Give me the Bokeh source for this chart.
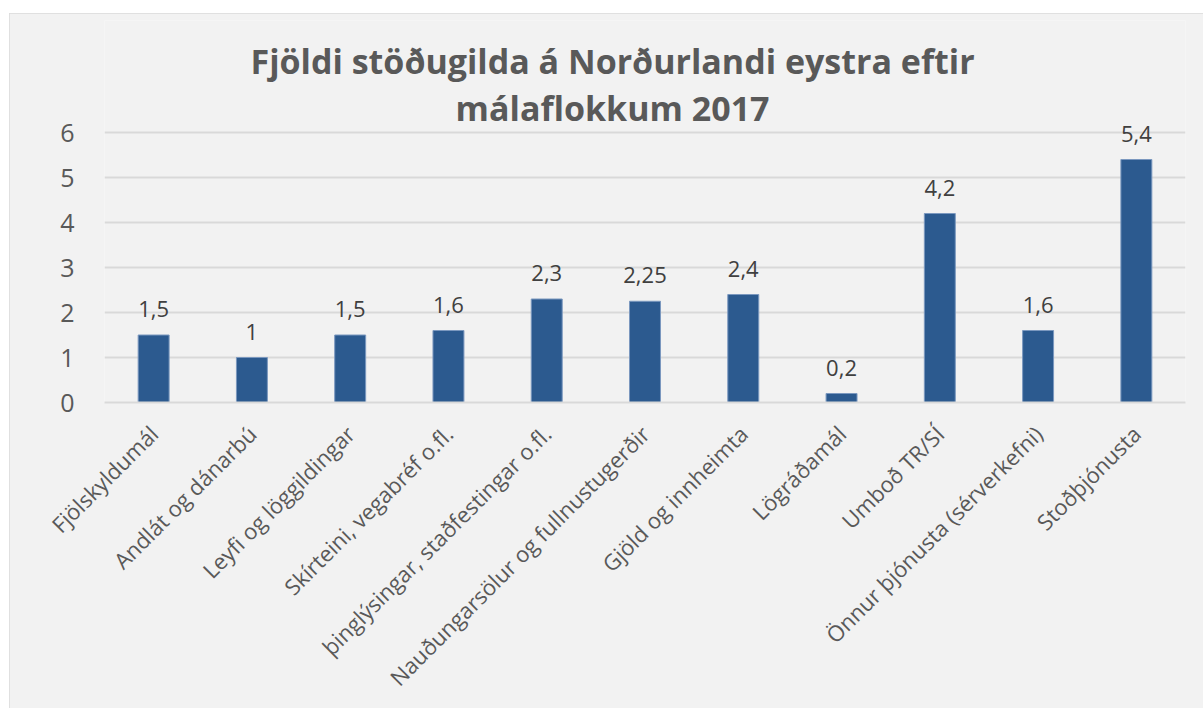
from math import pi
from bokeh.plotting import figure
from bokeh.models import ColumnDataSource, FactorRange, FixedTicker, LabelSet, Label
from bokeh.core.properties import value
from bokeh.embed import file_html
from bokeh.resources import INLINE

categories = [
    "Fjölskyldumál",
    "Andlát og dánarbú",
    "Leyfi og löggildingar",
    "Skírteini, vegabréf o.fl.",
    "þinglýsingar, staðfestingar o.fl.",
    "Nauðungarsölur og fullnustugerðir",
    "Gjöld og innheimta",
    "Lögráðamál",
    "Umboð TR/SÍ",
    "Önnur þjónusta (sérverkefni)",
    "Stoðþjónusta",
]
values = [1.5, 1.0, 1.5, 1.6, 2.3, 2.25, 2.4, 0.2, 4.2, 1.6, 5.4]
y_ticks = [0, 1, 2, 3, 4, 5, 6]
title_lines = ["Fjöldi stöðugilda á Norðurlandi eystra eftir", "málaflokkum 2017"]

labels = [f"{v:g}".replace(".", ",") for v in values]
src = ColumnDataSource(dict(cat=categories, val=values, lab=labels))

FONT = "Open Sans"
BG = "#f2f2f2"

# frame extends above the top gridline (6) so the title and the tallest
# data label sit inside it without clipping; 45 px per unit.
Y_TOP = 8.4889

p = figure(
    x_range=FactorRange(*categories, range_padding=0),
    y_range=(0, Y_TOP),
    width=1194, height=695,
    min_border_left=95, min_border_right=18,
    min_border_top=7, min_border_bottom=306,
    output_backend="svg", toolbar_location=None,
    background_fill_color=BG, border_fill_color=BG,
    outline_line_color=None,
)
p.margin = (13, 0, 0, 9)
p.styles = {"outline": "2px solid #dadada", "outline-offset": "-2px"}

# two-line centred title
TITLE_X = 5.17
for line, ty in [(title_lines[0], 7.6), (title_lines[1], 6.55)]:
    p.add_layout(Label(x=TITLE_X, y=ty, text=line,
                       text_align="center", text_baseline="alphabetic",
                       text_font=FONT, text_font_size="34px",
                       text_font_style="bold", text_color="#595959"))

p.vbar(x="cat", top="val", width=0.315, source=src,
       fill_color="#2c5a8f", line_color="#7b98bf", line_width=1)

data_labels = LabelSet(x="cat", y="val", text="lab", source=src,
                       text_align="center", text_baseline="alphabetic", y_offset=18,
                       text_font=value(FONT), text_font_size="22px",
                       text_color="#404040")
p.add_layout(data_labels)

p.xaxis.major_label_orientation = pi / 4
p.xaxis.major_label_text_font = FONT
p.xaxis.major_label_text_font_size = "22px"
p.xaxis.major_label_text_color = "#595959"
p.xaxis.major_label_standoff = 21
p.xaxis.axis_line_color = "#d9d9d9"
p.xaxis.axis_line_width = 2
p.xaxis.major_tick_line_color = None
p.xaxis.minor_tick_line_color = None

p.yaxis.ticker = FixedTicker(ticks=y_ticks)
p.yaxis.major_label_text_font = FONT
p.yaxis.major_label_text_font_size = "25px"
p.yaxis.major_label_text_color = "#595959"
p.yaxis.major_label_standoff = 24
p.yaxis.axis_line_color = None
p.yaxis.major_tick_line_color = None
p.yaxis.minor_tick_line_color = None

p.xgrid.grid_line_color = None
p.ygrid.grid_line_color = "#d9d9d9"
p.ygrid.grid_line_width = 2

open("out.html", "w").write(file_html(p, INLINE))
